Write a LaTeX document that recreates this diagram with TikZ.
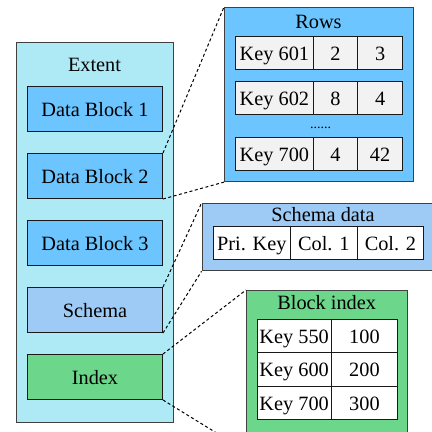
\documentclass[tikz,border=0pt]{standalone}
\usepackage{fontspec}
\setmainfont{Liberation Serif}
\definecolor{extentfill}{RGB}{174,234,246}
\definecolor{blockfill}{RGB}{108,197,255}
\definecolor{schemafill}{RGB}{157,203,245}
\definecolor{indexfill}{RGB}{108,214,138}
\definecolor{cellgray}{RGB}{242,242,242}
\tikzset{
  lbl/.style={font=\fontsize{20.3}{23}\selectfont, text height=15pt, text depth=0pt},
  box/.style={draw=black!90, line width=1pt, rectangle, inner sep=0pt,
              anchor=north west, lbl},
  panel/.style={draw=black!75, line width=1.1pt, rectangle, inner sep=0pt, anchor=north west},
  cell/.style={draw=black!90, line width=0.9pt, rectangle, inner sep=0pt,
               anchor=north west, lbl},
  title/.style={font=\fontsize{20.3}{23}\selectfont, inner sep=0pt, anchor=base},
  zoomline/.style={draw=black, line width=1pt, dash pattern=on 3pt off 2.5pt}
}
\begin{document}
\begin{tikzpicture}[x=1pt,y=-1pt]
\clip (0,0) rectangle (432,432);
\fill[white] (0,0) rectangle (432,432);

% the extent and its blocks
\node[panel, fill=extentfill, minimum width=157pt, minimum height=380pt] (extent) at (16,42) {};
\node[title] (extentT) at (94.5,71.7) {Extent};
\node[box, fill=blockfill, minimum width=135pt, minimum height=45pt] (db1) at (27,86) {Data Block 1};
\node[box, fill=blockfill, minimum width=135pt, minimum height=45pt] (db2) at (27,153) {Data Block 2};
\node[box, fill=blockfill, minimum width=135pt, minimum height=45pt] (db3) at (27,220) {Data Block 3};
\node[box, fill=schemafill, minimum width=135pt, minimum height=45pt] (schema) at (27,287) {Schema};
\node[box, fill=indexfill, minimum width=135pt, minimum height=45pt] (index) at (27,354) {Index};

% rows of a data block
\node[panel, fill=blockfill, minimum width=189pt, minimum height=174pt] (rows) at (224,7) {};
\node[title] (rowsT) at (318.5,28.3) {Rows};
\node[cell, fill=cellgray, minimum width=77.5pt, minimum height=33.4pt] (r1k) at (235.2,35.7) {Key 601};
\node[cell, fill=cellgray, minimum width=44.6pt, minimum height=33.4pt] (r1a) at (312.7,35.7) {2};
\node[cell, fill=cellgray, minimum width=44.7pt, minimum height=33.4pt] (r1b) at (357.3,35.7) {3};
\node[cell, fill=cellgray, minimum width=77.5pt, minimum height=33.4pt] (r2k) at (235.2,80.7) {Key 602};
\node[cell, fill=cellgray, minimum width=44.6pt, minimum height=33.4pt] (r2a) at (312.7,80.7) {8};
\node[cell, fill=cellgray, minimum width=44.7pt, minimum height=33.4pt] (r2b) at (357.3,80.7) {4};
\node[inner sep=0pt, font=\fontsize{14}{16}\selectfont, anchor=base] (dots) at (320.5,128.5) {......};
\node[cell, fill=cellgray, minimum width=77.5pt, minimum height=33.4pt] (r3k) at (235.2,136.7) {Key 700};
\node[cell, fill=cellgray, minimum width=44.6pt, minimum height=33.4pt] (r3a) at (312.7,136.7) {4};
\node[cell, fill=cellgray, minimum width=44.7pt, minimum height=33.4pt] (r3b) at (357.3,136.7) {42};

% schema data
\node[panel, fill=schemafill, minimum width=240pt, minimum height=67pt] (sdata) at (201.5,203.2) {};
\node[title] (sdataT) at (323,221.7) {Schema data};
\node[cell, fill=white, minimum width=77.3pt, minimum height=33.3pt] (sc1) at (212.7,226) {Pri. Key};
\node[cell, fill=white, minimum width=66.7pt, minimum height=33.3pt] (sc2) at (290,226) {Col. 1};
\node[cell, fill=white, minimum width=66.6pt, minimum height=33.3pt] (sc3) at (356.7,226) {Col. 2};

% block index
\node[panel, fill=indexfill, minimum width=161.3pt, minimum height=160pt] (bidx) at (246,290) {};
\node[title] (bidxT) at (326.7,309.3) {Block index};
\node[cell, fill=white, minimum width=74pt, minimum height=33.3pt] (b1k) at (256.7,319) {Key 550};
\node[cell, fill=white, minimum width=66.6pt, minimum height=33.3pt] (b1v) at (330.7,319) {100};
\node[cell, fill=white, minimum width=74pt, minimum height=33.3pt] (b2k) at (256.7,352.3) {Key 600};
\node[cell, fill=white, minimum width=66.6pt, minimum height=33.3pt] (b2v) at (330.7,352.3) {200};
\node[cell, fill=white, minimum width=74pt, minimum height=33.3pt] (b3k) at (256.7,385.6) {Key 700};
\node[cell, fill=white, minimum width=66.6pt, minimum height=33.3pt] (b3v) at (330.7,385.6) {300};

% zoom lines from each block to its detail
\draw[zoomline] (db2.north east) -- (rows.north west);
\draw[zoomline] (db2.south east) -- (rows.south west);
\draw[zoomline] (schema.north east) -- (sdata.north west);
\draw[zoomline] (schema.south east) -- (sdata.south west);
\draw[zoomline] (index.north east) -- (bidx.north west);
\draw[zoomline] (index.south east) -- (bidx.south west);
\end{tikzpicture}
\end{document}
